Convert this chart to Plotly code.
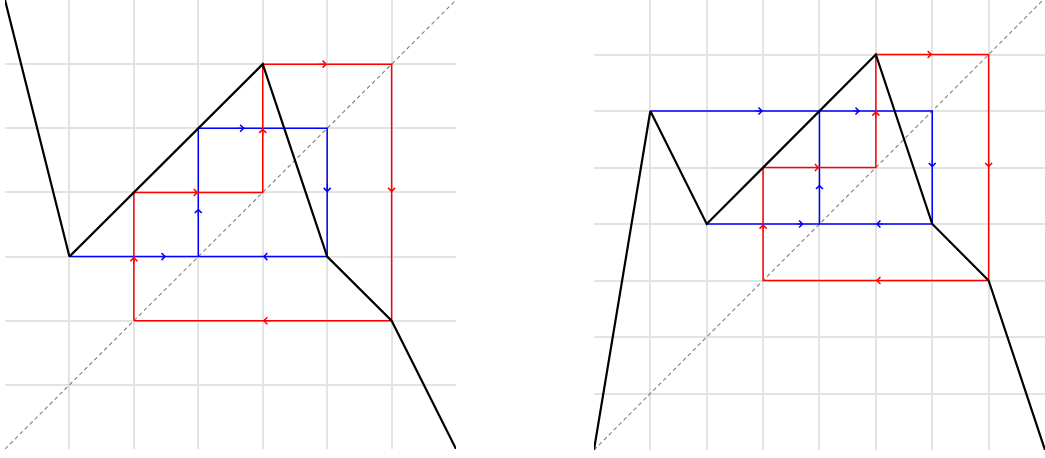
import plotly.graph_objects as go

# left panel: piecewise-linear map and its cobwebs
left_fx = [0, 1, 4, 5, 6, 7]
left_fy = [7, 3, 6, 3, 2, 0]
left_blue_x = [1, 3, 3, 5, 5, 3]
left_blue_y = [3, 3, 5, 5, 3, 3]
left_red_x = [2, 2, 4, 4, 6, 6, 2]
left_red_y = [2, 4, 4, 6, 6, 2, 2]
left_blue_arrows = [(2.5, 3, 'r'), (3, 3.75, 'u'), (3.72, 5, 'r'), (5, 4, 'd'), (4, 3, 'l')]
left_red_arrows = [(2, 3, 'u'), (3, 4, 'r'), (4, 5, 'u'), (5, 6, 'r'), (6, 4, 'd'), (4, 2, 'l')]

# right panel
right_fx = [0, 1, 2, 5, 6, 7, 8]
right_fy = [0, 6, 4, 7, 4, 3, 0]
right_blue_x = [1, 6, 6, 4, 4, None, 2, 4]
right_blue_y = [6, 6, 4, 4, 6, None, 4, 4]
right_red_x = [3, 3, 5, 5, 7, 7, 3]
right_red_y = [3, 5, 5, 7, 7, 3, 3]
right_blue_arrows = [(3, 6, 'r'), (4.72, 6, 'r'), (6, 5, 'd'), (5, 4, 'l'), (3.72, 4, 'r'), (4, 4.7, 'u')]
right_red_arrows = [(6, 7, 'r'), (7, 5, 'd'), (5, 3, 'l'), (3, 4, 'u'), (4, 5, 'r'), (5, 6, 'u')]

BLUE = '#0000ff'
RED = '#ff0000'
DIRS = {'r': (1, 0), 'l': (-1, 0), 'u': (0, 1), 'd': (0, -1)}

fig = go.Figure()


def panel(xa, ya, n, fx, fy, bx, by, rx, ry, barrows, rarrows):
    fig.add_trace(go.Scatter(x=[0, n], y=[0, n], mode='lines', xaxis=xa, yaxis=ya,
                             line=dict(color='#808080', width=1.1, dash='4px,3px')))
    fig.add_trace(go.Scatter(x=bx, y=by, mode='lines', xaxis=xa, yaxis=ya,
                             line=dict(color=BLUE, width=1.5)))
    fig.add_trace(go.Scatter(x=rx, y=ry, mode='lines', xaxis=xa, yaxis=ya,
                             line=dict(color=RED, width=1.5)))
    fig.add_trace(go.Scatter(x=fx, y=fy, mode='lines', xaxis=xa, yaxis=ya,
                             line=dict(color='black', width=2.2)))
    for arrows, col in ((barrows, BLUE), (rarrows, RED)):
        for x, y, d in arrows:
            dx, dy = DIRS[d]
            fig.add_annotation(x=x, y=y, ax=x - 0.15 * dx, ay=y - 0.15 * dy,
                               xref=xa, yref=ya, axref=xa, ayref=ya,
                               text='', showarrow=True, arrowhead=4,
                               arrowsize=1.35, arrowwidth=1, arrowcolor=col)


panel('x', 'y', 7, left_fx, left_fy, left_blue_x, left_blue_y,
      left_red_x, left_red_y, left_blue_arrows, left_red_arrows)
panel('x2', 'y2', 8, right_fx, right_fy, right_blue_x, right_blue_y,
      right_red_x, right_red_y, right_blue_arrows, right_red_arrows)

ax_style = dict(showgrid=True, dtick=1, tick0=0, gridcolor='#e3e3e3', gridwidth=2,
                zeroline=False, showticklabels=False, ticks='', showline=False)

fig.update_layout(
    width=1045, height=458,
    margin=dict(l=5, r=0, t=0, b=8),
    plot_bgcolor='white', paper_bgcolor='white',
    showlegend=False,
    xaxis=dict(domain=[0, 0.4337], range=[0, 7], **ax_style),
    yaxis=dict(domain=[0.0022, 1], range=[0, 7], **ax_style),
    xaxis2=dict(domain=[0.5663, 1], range=[0, 8], anchor='y2', **ax_style),
    yaxis2=dict(domain=[0, 1], range=[0, 7.965], anchor='x2', **ax_style),
)

fig.write_html("out.html", config={'displayModeBar': False},
               post_script="document.body.style.margin='0px';")
